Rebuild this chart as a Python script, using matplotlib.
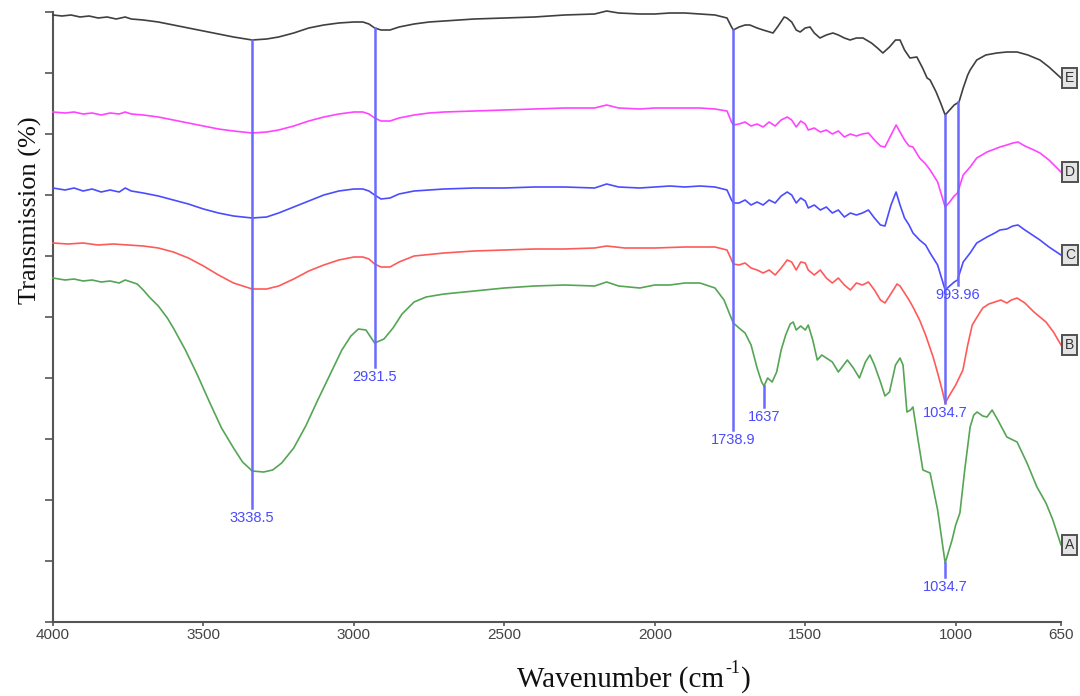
import matplotlib
matplotlib.use("Agg")
import matplotlib.pyplot as plt

# ---------------- data (transmission, arbitrary offset units) ----------------
wn_A = [4000, 3960, 3930, 3900, 3870, 3840, 3810, 3780, 3760, 3740, 3720, 3700, 3680, 3650, 3620, 3600,
        3560, 3520, 3480, 3440, 3400, 3370, 3338, 3300, 3270, 3240, 3200, 3160, 3120, 3080, 3040, 3010,
        2985, 2960, 2931, 2900, 2870, 2840, 2800, 2760, 2700, 2600, 2500, 2400, 2300, 2200, 2160, 2120,
        2050, 2000, 1950, 1900, 1850, 1800, 1770, 1750, 1739, 1720, 1700, 1680, 1660, 1645, 1637, 1625,
        1610, 1595, 1580, 1565, 1550, 1540, 1530, 1515, 1500, 1490, 1475, 1460, 1445, 1430, 1410, 1390,
        1375, 1360, 1340, 1320, 1300, 1285, 1270, 1250, 1235, 1220, 1200, 1185, 1175, 1162, 1150, 1142,
        1125, 1109, 1085, 1060, 1035, 1020, 1012, 1000, 986, 970, 952, 940, 929, 910, 896, 879, 860, 830,
        796, 763, 730, 700, 677, 650]
t_A = [344, 342, 343, 341, 342, 340, 341, 339, 342, 340, 338, 332, 325, 316, 304, 294,
       272, 247, 220, 194, 174, 160, 151, 150, 152, 159, 174, 196, 222, 247, 272, 286,
       293, 292, 279, 283, 294, 308, 320, 325, 328, 331, 334, 336, 337, 336, 340, 336,
       334, 337, 337, 339, 339, 334, 322, 307, 299, 294, 289, 277, 254, 240, 236, 244,
       240, 250, 272, 287, 298, 300, 292, 296, 292, 297, 282, 262, 267, 264, 260, 250,
       256, 262, 254, 244, 260, 267, 257, 240, 226, 230, 257, 264, 257, 210, 212, 215,
       182, 152, 149, 112, 59, 74, 82, 97, 109, 152, 195, 207, 210, 206, 205, 212, 202, 185,
       180, 159, 135, 119, 102, 77]

wn_B = [4000, 3950, 3900, 3850, 3800, 3750, 3700, 3650, 3600, 3550, 3500, 3450, 3400, 3338, 3290, 3250,
        3200, 3150, 3100, 3050, 3000, 2970, 2950, 2931, 2910, 2880, 2850, 2800, 2700, 2600, 2500, 2400,
        2300, 2200, 2160, 2100, 2000, 1900, 1800, 1760, 1745, 1739, 1720, 1700, 1680, 1660, 1640, 1620,
        1600, 1580, 1560, 1545, 1530, 1515, 1500, 1490, 1470, 1450, 1430, 1410, 1390, 1370, 1350, 1330,
        1310, 1290, 1270, 1250, 1235, 1220, 1195, 1185, 1170, 1155, 1142, 1120, 1100, 1075, 1060, 1045,
        1035, 1020, 1000, 976, 960, 945, 929, 910, 890, 870, 850, 830, 815, 796, 770, 740, 700, 675, 650]
t_B = [379, 378, 379, 377, 378, 377, 376, 374, 370, 364, 356, 347, 339, 333, 333, 336,
       343, 351, 357, 362, 365, 365, 363, 358, 355, 355, 360, 366, 369, 371, 372, 373,
       373, 374, 376, 374, 374, 375, 375, 372, 362, 358, 357, 359, 354, 352, 349, 352,
       347, 354, 362, 360, 352, 360, 359, 352, 347, 352, 344, 339, 344, 337, 332, 339,
       337, 340, 332, 322, 319, 326, 338, 336, 329, 322, 315, 302, 287, 265, 249, 232,
       219, 227, 237, 252, 277, 297, 305, 314, 318, 320, 322, 319, 322, 324, 319, 310, 300, 290, 277]

wn_C = [4000, 3960, 3930, 3900, 3870, 3840, 3810, 3780, 3760, 3740, 3700, 3650, 3600, 3550, 3500, 3450,
        3400, 3338, 3290, 3250, 3200, 3150, 3100, 3050, 3000, 2970, 2950, 2931, 2910, 2880, 2850, 2800,
        2750, 2700, 2600, 2500, 2400, 2300, 2200, 2160, 2120, 2050, 2000, 1950, 1900, 1850, 1800, 1760,
        1745, 1739, 1720, 1700, 1680, 1660, 1640, 1620, 1600, 1580, 1560, 1545, 1530, 1515, 1500, 1490,
        1470, 1450, 1430, 1410, 1390, 1370, 1350, 1330, 1310, 1290, 1270, 1250, 1235, 1215, 1198, 1185,
        1170, 1155, 1142, 1120, 1100, 1085, 1060, 1035, 1020, 1005, 994, 975, 952, 930, 896, 870, 853,
        830, 810, 793, 770, 740, 720, 690, 650]
t_C = [434, 432, 434, 431, 433, 430, 432, 430, 434, 431, 429, 426, 422, 418, 413, 409,
       406, 404, 405, 409, 415, 421, 427, 431, 433, 433, 431, 427, 423, 424, 428, 431,
       432, 433, 434, 434, 435, 435, 434, 438, 435, 434, 435, 436, 435, 436, 435, 432,
       422, 419, 419, 422, 417, 420, 417, 422, 419, 426, 430, 427, 419, 424, 421, 414,
       417, 412, 415, 409, 412, 405, 409, 407, 409, 412, 404, 397, 396, 417, 430, 417,
       404, 397, 389, 382, 377, 369, 357, 332, 336, 340, 342, 360, 369, 379, 385, 389, 392,
       393, 396, 397, 392, 386, 382, 375, 367]

wn_D = [4000, 3960, 3930, 3900, 3870, 3840, 3810, 3780, 3760, 3740, 3700, 3650, 3600, 3550, 3500, 3450,
        3400, 3338, 3290, 3250, 3200, 3150, 3100, 3050, 3000, 2970, 2950, 2931, 2910, 2880, 2850, 2800,
        2750, 2700, 2600, 2500, 2400, 2300, 2200, 2160, 2120, 2050, 2000, 1950, 1900, 1850, 1800, 1760,
        1745, 1739, 1720, 1700, 1680, 1660, 1640, 1620, 1600, 1580, 1560, 1545, 1530, 1515, 1500, 1490,
        1470, 1450, 1430, 1410, 1390, 1370, 1350, 1330, 1310, 1290, 1270, 1250, 1235, 1215, 1198, 1185,
        1170, 1155, 1142, 1120, 1100, 1085, 1060, 1035, 1020, 1005, 994, 975, 952, 930, 896, 870, 853,
        830, 810, 793, 770, 740, 720, 690, 650]
t_D = [510, 509, 510, 508, 509, 507, 509, 508, 510, 508, 507, 505, 502, 499, 496, 493,
       491, 489, 490, 492, 496, 501, 505, 508, 510, 510, 508, 504, 501, 501, 504, 507,
       509, 510, 511, 512, 513, 514, 514, 517, 514, 513, 514, 514, 514, 514, 513, 511,
       500, 497, 498, 500, 496, 498, 495, 500, 496, 502, 505, 502, 495, 501, 498, 492,
       494, 490, 492, 488, 491, 485, 488, 486, 488, 489, 482, 476, 475, 487, 497, 490,
       482, 476, 475, 464, 458, 452, 440, 415, 420, 426, 429, 447, 455, 464, 470, 473, 475,
       477, 479, 480, 476, 472, 469, 462, 450]

wn_E = [4000, 3970, 3940, 3910, 3880, 3850, 3820, 3790, 3760, 3740, 3700, 3650, 3600, 3550, 3500, 3450,
        3400, 3338, 3290, 3250, 3200, 3150, 3100, 3050, 3000, 2970, 2950, 2931, 2910, 2880, 2850, 2800,
        2750, 2700, 2600, 2500, 2400, 2300, 2200, 2160, 2120, 2050, 2000, 1950, 1900, 1850, 1800, 1760,
        1745, 1739, 1720, 1700, 1684, 1660, 1640, 1607, 1590, 1570, 1561, 1545, 1530, 1517, 1500, 1484,
        1470, 1451, 1430, 1408, 1390, 1370, 1351, 1330, 1308, 1280, 1260, 1242, 1220, 1200, 1185, 1170,
        1152, 1129, 1110, 1095, 1085, 1065, 1050, 1035, 1020, 1005, 989, 975, 960, 952, 930, 900, 863,
        830, 796, 760, 720, 690, 650]
t_E = [607, 606, 607, 605, 606, 604, 605, 603, 605, 603, 602, 600, 597, 594, 591, 588,
       585, 582, 583, 585, 589, 594, 597, 599, 600, 600, 598, 594, 592, 592, 595, 598,
       600, 601, 603, 604, 605, 607, 608, 611, 609, 608, 608, 609, 609, 608, 607, 604,
       595, 592, 595, 597, 597, 594, 592, 589, 596, 605, 604, 600, 592, 590, 594, 595,
       589, 584, 587, 589, 587, 584, 582, 584, 584, 579, 574, 569, 575, 582, 582, 572,
       564, 565, 554, 544, 542, 530, 519, 507, 512, 517, 520, 534, 547, 552, 562, 567, 569,
       570, 570, 567, 562, 555, 544]

sample_names = ["A", "B", "C", "D", "E"]
sample_colors = ["#55a555", "#ff5a5a", "#4c4cff", "#ff44ff", "#404040"]

peak_wn = [3338.5, 2931.5, 1738.9, 1637, 1034.7, 993.96, 1034.7]
peak_top = [582, 594, 592, 236, 507, 520, 59]
peak_bot = [114, 255, 192, 215, 219, 337, 45]
peak_txt = ["3338.5", "2931.5", "1738.9", "1637", "1034.7", "993.96", "1034.7"]

x_ticks = [4000, 3500, 3000, 2500, 2000, 1500, 1000, 650]

# ---------------- figure ----------------
fig = plt.figure(figsize=(10.8, 6.96), dpi=100)
ax = fig.add_axes([53 / 1080, 1 - 622 / 696, (1061 - 53) / 1080, 610 / 696])

series = [(wn_A, t_A), (wn_B, t_B), (wn_C, t_C), (wn_D, t_D), (wn_E, t_E)]
for (w, t), name, col in zip(series, sample_names, sample_colors):
    ax.plot(w, t, color=col, lw=1.2, clip_on=False, zorder=3)
    ax.annotate(name, xy=(w[-1], t[-1]), xytext=(3, 0), textcoords="offset points",
                ha="left", va="center", fontsize=10, family="Liberation Sans", color="#333333",
                bbox=dict(boxstyle="square,pad=0.2", fc="#e4e4e4", ec="#505050", lw=1.4),
                annotation_clip=False, zorder=5)

for w, top, bot, txt in zip(peak_wn, peak_top, peak_bot, peak_txt):
    ax.plot([w, w], [top, bot], color="#6a6aff", lw=1.8, zorder=4, clip_on=False)
    ax.annotate(txt, xy=(w, bot), xytext=(0, -2), textcoords="offset points",
                ha="center", va="top", fontsize=10.5, family="Liberation Sans",
                color="#4a4aff", annotation_clip=False, zorder=6)

ax.set_xlim(4000, 650)
ax.set_ylim(0, 610)
ax.set_xticks(x_ticks)
ax.set_xticklabels([str(v) for v in x_ticks], family="Liberation Sans", fontsize=11, color="#444444")
ax.set_yticks(range(0, 611, 61))
ax.set_yticklabels([])

for s in ["top", "right"]:
    ax.spines[s].set_visible(False)
for s in ["left", "bottom"]:
    ax.spines[s].set_color("#555555")
    ax.spines[s].set_linewidth(1.5)
ax.tick_params(axis="y", direction="out", length=6, width=1.2, color="#555555")
ax.tick_params(axis="x", direction="out", length=3, width=1.2, color="#555555", pad=1.5)

# x-axis title built from pieces so that the superscript stays small
t1 = fig.text(517 / 1080, 1 - 687 / 696, "Wavenumber (cm", ha="left", va="baseline",
              fontsize=21, family="Liberation Serif", color="#111111")
sup = fig.add_artist(plt.Annotation("-1", xy=(1, 0.62), xycoords=t1, xytext=(1, 0),
                                    textcoords="offset points", ha="left", va="bottom",
                                    fontsize=13, family="Liberation Serif", color="#111111"))
fig.add_artist(plt.Annotation(")", xy=(1, 0), xycoords=(sup, t1), xytext=(0.5, 0),
                              textcoords="offset points", ha="left", va="bottom",
                              fontsize=21, family="Liberation Serif", color="#111111"))

fig.text(30 / 1080, 1 - 210 / 696, "Transmission (%)", ha="center", va="center", rotation=90,
         fontsize=19, family="Liberation Serif", color="#111111")

fig.savefig("out.png", dpi=100)
